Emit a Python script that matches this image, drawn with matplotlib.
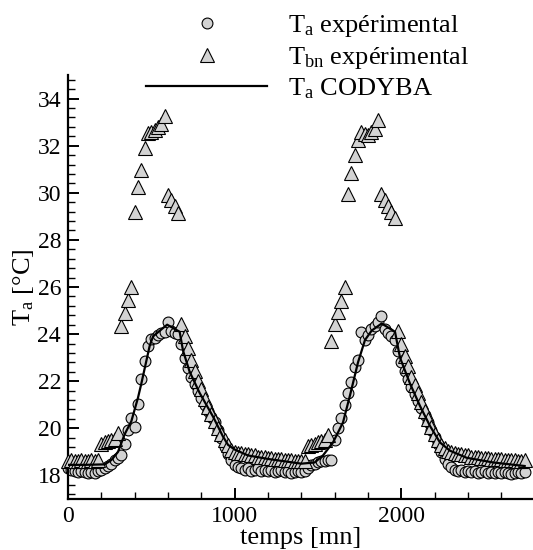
import numpy as np
import matplotlib
matplotlib.use("Agg")
import matplotlib.pyplot as plt
from matplotlib.ticker import MultipleLocator

plt.rcParams['font.family'] = 'Liberation Serif'
plt.rcParams['mathtext.fontset'] = 'custom'
plt.rcParams['mathtext.rm'] = 'Liberation Serif'
plt.rcParams['mathtext.it'] = 'Liberation Serif:italic'

# sampling times of the measurements [mn]
temps = np.arange(0, 2741, 20)

# air temperature, measured
ta_exp = [
    18.30, 18.25, 18.20, 18.15, 18.20, 18.15, 18.10, 18.15, 18.10, 18.20,
    18.25, 18.30, 18.40, 18.50, 18.65, 18.75, 18.85, 19.35, 19.95, 20.45,
    20.05, 21.05, 22.10, 22.85, 23.50, 23.80, 23.85, 23.95, 24.05, 24.10,
    24.50, 24.15, 24.05, 24.00, 23.60, 23.00, 22.55, 22.20, 21.90, 21.60,
    21.30, 21.00, 20.75, 20.50, 20.25, 19.95, 19.60, 19.20, 18.90, 18.65,
    18.45, 18.35, 18.30, 18.25, 18.30, 18.20, 18.25, 18.30, 18.20, 18.25,
    18.20, 18.25, 18.15, 18.20, 18.25, 18.15, 18.20, 18.10, 18.15, 18.20,
    18.15, 18.20, 18.30, 18.45, 18.50, 18.55, 18.60, 18.60, 18.65, 18.65,
    19.50, 20.00, 20.45, 21.00, 21.50, 21.95, 22.60, 22.90, 24.10, 23.75,
    23.95, 24.20, 24.35, 24.50, 24.75, 24.20, 24.05, 23.90, 23.75, 23.30,
    22.80, 22.45, 22.10, 21.75, 21.45, 21.15, 20.85, 20.55, 20.25, 19.95,
    19.65, 19.35, 19.00, 18.70, 18.50, 18.35, 18.25, 18.20, 18.25, 18.15,
    18.20, 18.15, 18.20, 18.10, 18.15, 18.20, 18.10, 18.15, 18.10, 18.15,
    18.10, 18.15, 18.10, 18.05, 18.10, 18.15, 18.10, 18.15,
]

# floor temperature, measured
tbn_exp = [
    18.60, 18.65, 18.60, 18.60, 18.65, 18.60, 18.60, 18.65, 18.60, 18.65,
    19.35, 19.40, 19.45, 19.50, 19.55, 19.80, 24.35, 24.90, 25.45, 26.00,
    29.20, 30.25, 30.95, 31.90, 32.55, 32.60, 32.65, 32.80, 32.90, 33.25,
    29.90, 29.70, 29.45, 29.15, 24.45, 23.90, 23.40, 22.90, 22.45, 22.00,
    21.65, 21.25, 20.90, 20.60, 20.30, 20.00, 19.75, 19.50, 19.30, 19.10,
    19.00, 18.95, 18.95, 18.90, 18.90, 18.85, 18.85, 18.80, 18.80, 18.80,
    18.75, 18.75, 18.70, 18.70, 18.70, 18.65, 18.65, 18.65, 18.60, 18.60,
    18.60, 18.60, 19.25, 19.30, 19.35, 19.40, 19.45, 19.50, 19.70, 23.70,
    24.45, 24.95, 25.40, 26.00, 29.95, 30.85, 31.60, 32.25, 32.60, 32.50,
    32.45, 32.60, 32.70, 33.10, 29.95, 29.70, 29.45, 29.20, 28.95, 24.15,
    23.60, 23.05, 22.65, 22.20, 21.85, 21.50, 21.10, 20.75, 20.40, 20.05,
    19.75, 19.50, 19.30, 19.15, 19.05, 19.00, 18.95, 18.90, 18.90, 18.85,
    18.85, 18.80, 18.80, 18.80, 18.75, 18.75, 18.75, 18.70, 18.70, 18.70,
    18.70, 18.65, 18.65, 18.65, 18.65, 18.60, 18.60, 18.65,
]

# air temperature, CODYBA simulation
codyba_t = [0, 100, 220, 260, 300, 340, 380, 420, 440, 490, 510, 560, 595,
            670, 690, 730, 790, 870, 930, 960, 1000, 1080, 1200, 1300, 1400,
            1480, 1530, 1590, 1650, 1692, 1740, 1782, 1822, 1882, 1962, 1992,
            2052, 2112, 2172, 2232, 2292, 2392, 2552, 2740]
codyba_ta = [18.45, 18.45, 18.47, 18.65, 19.00, 19.75, 20.30, 21.30, 21.90,
             23.50, 23.90, 24.20, 24.40, 24.10, 23.30, 22.40, 21.50, 20.50,
             19.65, 19.30, 19.10, 18.85, 18.70, 18.60, 18.50, 18.55, 18.85,
             19.40, 20.25, 21.40, 22.80, 23.75, 24.15, 24.45, 24.10, 23.00,
             21.90, 20.95, 20.10, 19.40, 19.05, 18.75, 18.55, 18.40]

fig = plt.figure(figsize=(5.33, 5.5), dpi=100)
ax = fig.add_axes([68 / 533, 51 / 550, 465 / 533, 424 / 550])

ax.plot(temps, ta_exp, 'o', ms=7.8, mfc='#d3d3d3', mec='black', mew=0.8,
        label=r'T$_\mathrm{a}$ expérimental', clip_on=False, zorder=2)
ax.plot(temps, tbn_exp, '^', ms=10, mfc='#d3d3d3', mec='black', mew=0.8,
        label=r'T$_\mathrm{bn}$ expérimental', clip_on=False, zorder=3)
ax.plot(codyba_t, codyba_ta, '-', color='black', lw=1.6,
        label=r'T$_\mathrm{a}$ CODYBA', zorder=4)

ax.set_xlim(0, 2790)
ax.set_ylim(17, 35)
ax.xaxis.set_major_locator(MultipleLocator(1000))
ax.xaxis.set_minor_locator(MultipleLocator(200))
ax.yaxis.set_major_locator(MultipleLocator(2))
ax.yaxis.set_minor_locator(MultipleLocator(0.4))
ax.set_yticks(np.arange(18, 35, 2))

for side in ['top', 'right']:
    ax.spines[side].set_visible(False)
for side in ['left', 'bottom']:
    ax.spines[side].set_linewidth(1.6)

ax.tick_params(which='major', direction='in', length=8, width=1.4,
               labelsize=17, pad=5)
ax.tick_params(which='minor', direction='in', length=5, width=1.0)

ax.set_xlabel('temps [mn]', fontsize=19, labelpad=0)
ax.set_ylabel(r'T$_\mathrm{a}$ [°C]', fontsize=19, labelpad=1)

ax.legend(loc='upper left', bbox_to_anchor=(146 / 533, 1 - 13 / 550),
          bbox_transform=fig.transFigure, frameon=False, fontsize=19,
          numpoints=1, handlelength=4.6, handletextpad=0.8,
          labelspacing=0.22, borderpad=0, borderaxespad=0)

fig.savefig('out.png', dpi=100)
